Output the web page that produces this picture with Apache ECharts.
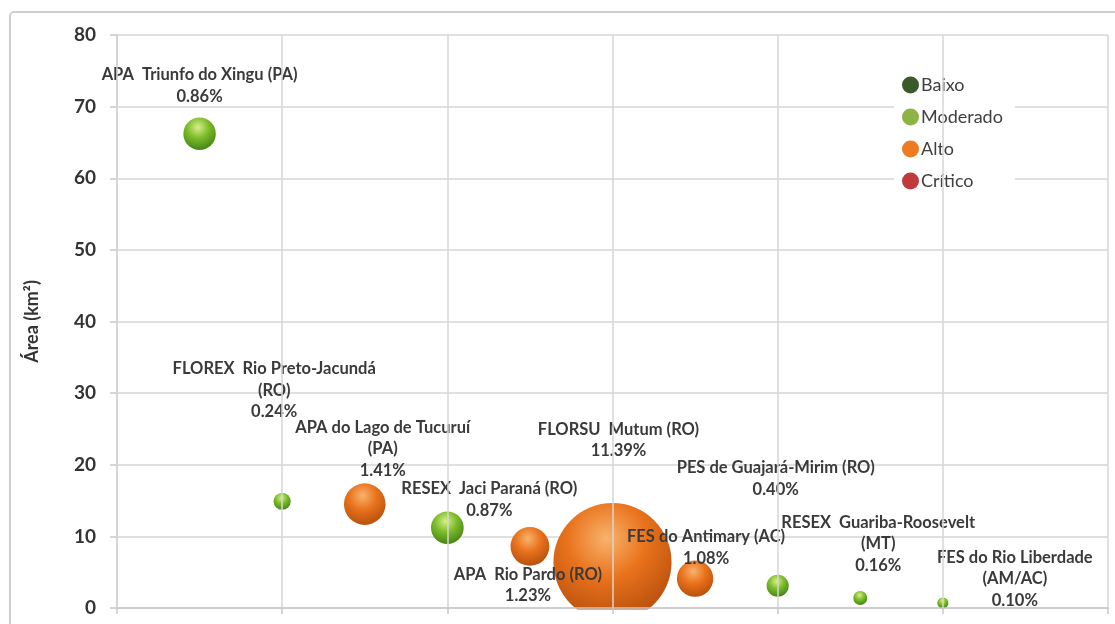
<!DOCTYPE html>
<html>
<head>
<meta charset="utf-8">
<script src="https://cdn.jsdelivr.net/npm/echarts@6/dist/echarts.min.js"></script>
<style>
  html, body { margin: 0; padding: 0; background: #ffffff; }
  #chart { width: 1115px; height: 624px; }
</style>
</head>
<body>
<div id="chart"></div>
<script>
// Protected areas: position along the x axis, area (km²), share (%) and risk class
const units = [
  'APA  Triunfo do Xingu (PA)',
  'FLOREX  Rio Preto-Jacundá\n(RO)',
  'APA do Lago de Tucuruí\n(PA)',
  'RESEX  Jaci Paraná (RO)',
  'APA  Rio Pardo (RO)',
  'FLORSU  Mutum (RO)',
  'FES do Antimary (AC)',
  'PES de Guajará-Mirim (RO)',
  'RESEX  Guariba-Roosevelt\n(MT)',
  'FES do Rio Liberdade\n(AM/AC)'
];
const xPos = [1, 2, 3, 4, 5, 6, 7, 8, 9, 10];
const areaKm2 = [66.2, 14.9, 14.5, 11.2, 8.6, 6.4, 4.1, 3.1, 1.4, 0.7];
const sharePct = [0.86, 0.24, 1.41, 0.87, 1.23, 11.39, 1.08, 0.40, 0.16, 0.10];
const riskClass = ['Moderado', 'Moderado', 'Alto', 'Moderado', 'Alto', 'Alto', 'Alto', 'Moderado', 'Moderado', 'Moderado'];
const riskLevels = ['Baixo', 'Moderado', 'Alto', 'Crítico'];
const yTicks = [0, 10, 20, 30, 40, 50, 60, 70, 80];

// Label placement relative to each bubble centre (px)
const labelOffsets = [
  [0, -48], [-8, -111], [18, -55], [42, -28], [-2, 39],
  [6, -122], [11, -31], [-2, -107], [18, -54], [72, -24]
];

const flatColors = {
  'Baixo': '#3b5a2a',
  'Moderado': '#8db443',
  'Alto': '#ee7b22',
  'Crítico': '#bf3a3c'
};
const shaded = {
  'Baixo': ['#7da35e', '#3b5a2a', '#24391a'],
  'Moderado': ['#d6f08a', '#7cbc2a', '#3f7d12'],
  'Alto': ['#f8b36c', '#e9721c', '#b24c0c'],
  'Crítico': ['#e9898a', '#bf3a3c', '#7f1f20']
};

function ballFill(level) {
  const c = shaded[level];
  return new echarts.graphic.RadialGradient(0.45, 0.3, 0.75, [
    { offset: 0, color: c[0] },
    { offset: 0.45, color: c[1] },
    { offset: 1, color: c[2] }
  ]);
}

const FONT = 'Lato, "Open Sans", sans-serif';

// indices of the units drawn by each series
const members = riskLevels.map(function (level) {
  return units.map(function (_, i) { return i; }).filter(function (i) { return riskClass[i] === level; });
});

const series = riskLevels.map(function (level, s) {
  return {
    name: level,
    type: 'scatter',
    data: members[s].map(function (i) {
      return { name: units[i], value: [xPos[i], areaKm2[i], sharePct[i]] };
    }),
    symbolSize: function (v) { return 35 * Math.sqrt(v[2]); },
    itemStyle: { color: ballFill(level), opacity: 1 },
    label: {
      show: true,
      position: 'inside',
      align: 'center',
      verticalAlign: 'middle',
      formatter: function (p) { return p.name + '\n' + p.value[2].toFixed(2) + '%'; },
      fontFamily: FONT,
      fontWeight: 'bold',
      fontSize: 16.5,
      lineHeight: 21.5,
      color: '#3a3a3a'
    },
    labelLayout: function (params) {
      const off = labelOffsets[members[params.seriesIndex][params.dataIndex]];
      return { dx: off[0], dy: off[1], hideOverlap: false };
    },
    emphasis: { disabled: true },
    z: 2
  };
});

const chart = echarts.init(document.getElementById('chart'));
chart.setOption({
  animation: false,
  backgroundColor: '#ffffff',
  grid: { left: 117, right: 7, top: 35, bottom: 16 },
  xAxis: {
    type: 'value',
    min: 0, max: 12, interval: 2,
    z: 6,
    axisLine: { show: true, lineStyle: { color: '#c8c8c8', width: 1.5 } },
    axisTick: { show: true, length: 6, lineStyle: { color: '#c8c8c8', width: 1.5 } },
    axisLabel: { show: false },
    splitLine: { show: true, lineStyle: { color: '#d6d6d6', width: 1.5 } }
  },
  yAxis: {
    type: 'value',
    min: yTicks[0], max: yTicks[yTicks.length - 1], interval: 10,
    name: 'Área (km²)',
    nameLocation: 'middle',
    nameGap: 76,
    nameTextStyle: { fontFamily: FONT, fontWeight: 'bold', fontSize: 18, color: '#333333' },
    axisLine: { show: true, lineStyle: { color: '#c8c8c8', width: 1.5 } },
    axisTick: { show: true, length: 7, lineStyle: { color: '#c8c8c8', width: 1.5 } },
    axisLabel: { margin: 21, fontFamily: FONT, fontWeight: 'bold', fontSize: 19, color: '#333333' },
    splitLine: { show: true, lineStyle: { color: '#d6d6d6', width: 1.5 } }
  },
  legend: {
    orient: 'vertical',
    left: 894,
    top: 70,
    padding: [6, 12, 6, 8],
    backgroundColor: '#ffffff',
    itemWidth: 17,
    itemHeight: 17,
    itemGap: 14,
    icon: 'circle',
    itemStyle: { opacity: 1 },
    textStyle: { fontFamily: FONT, fontSize: 18, lineHeight: 17, color: '#404040', padding: [0, 0, 0, -3] },
    data: riskLevels.map(function (l) { return { name: l, itemStyle: { color: flatColors[l], opacity: 1 } }; })
  },
  graphic: [
    {
      type: 'rect',
      z: 4,
      silent: true,
      shape: { x: 118, y: 609.5, width: 990, height: 16 },
      style: { fill: '#ffffff' }
    },
    {
      type: 'rect',
      z: 10,
      silent: true,
      shape: { x: 10, y: 12, width: 1120, height: 630, r: 4 },
      style: { fill: 'none', stroke: '#cfcfcf', lineWidth: 2 }
    }
  ],
  series: series
});
</script>
</body>
</html>
